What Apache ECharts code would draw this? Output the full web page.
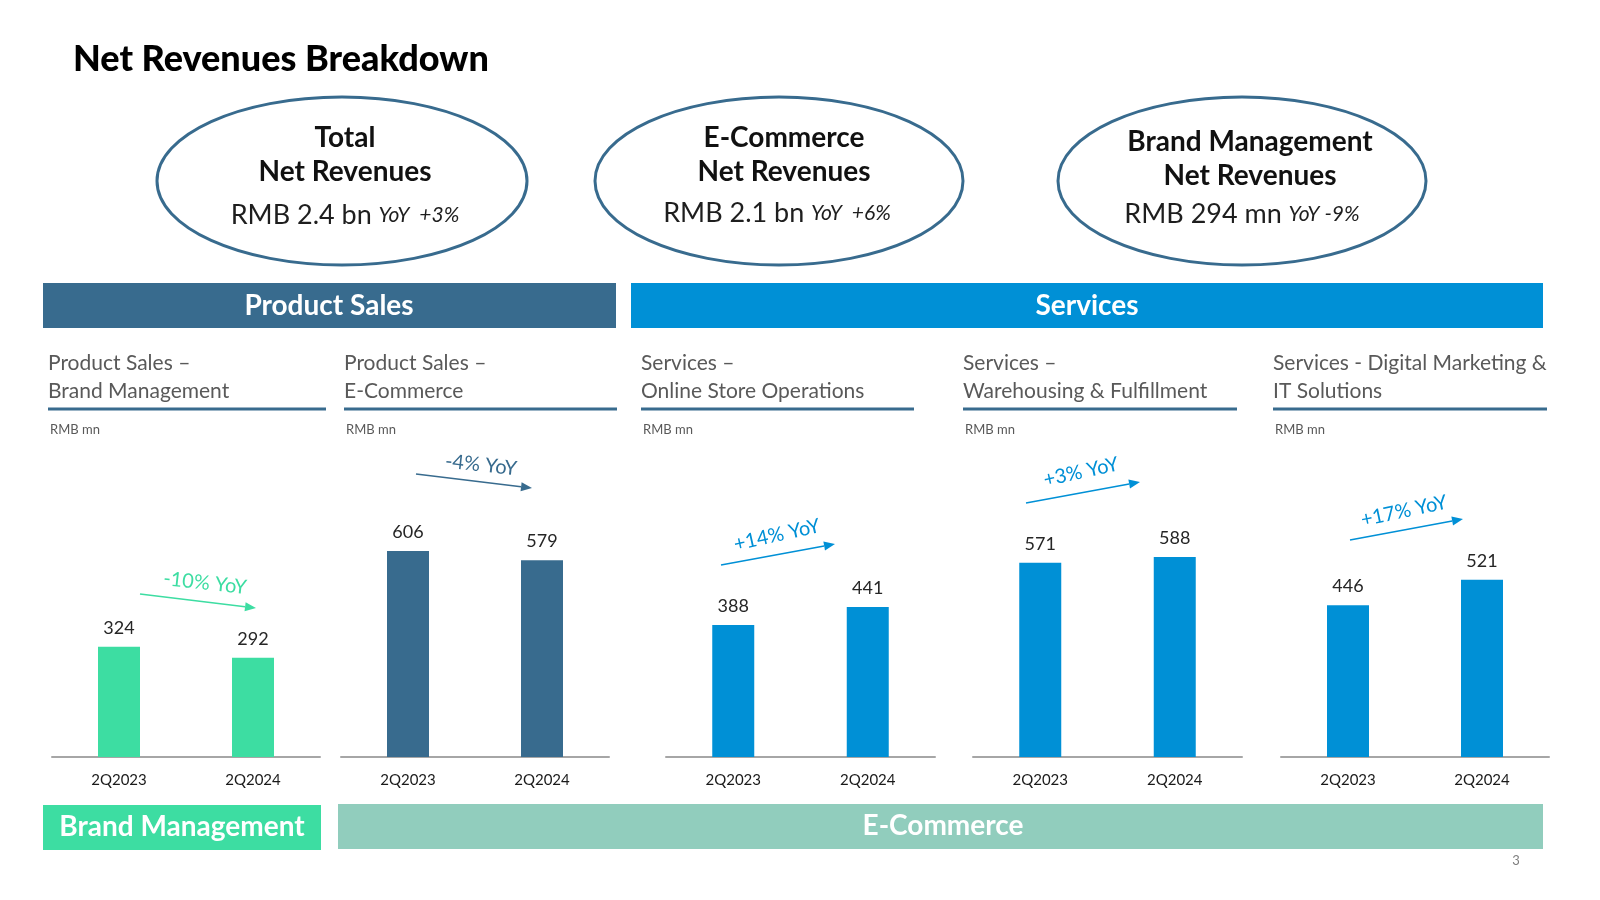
<!DOCTYPE html>
<html>
<head>
<meta charset="utf-8">
<script src="https://cdn.jsdelivr.net/npm/echarts@6/dist/echarts.min.js"></script>
<style>
html,body{margin:0;padding:0;background:#fff;}
#c{width:1600px;height:900px;}
</style>
</head>
<body>
<div id="c"></div>
<script>
// ---- data ----
const categories = ['2Q2023', '2Q2024'];
const psBrandMgmt = [324, 292];
const psECommerce = [606, 579];
const svcOnlineStore = [388, 441];
const svcWarehousing = [571, 588];
const svcDigitalIT = [446, 521];
const yoyLabels = ['-10% YoY', '-4% YoY', '+14% YoY', '+3% YoY', '+17% YoY'];
const panelTitles = [
  'Product Sales –\nBrand Management',
  'Product Sales –\nE-Commerce',
  'Services –\nOnline Store Operations',
  'Services –\nWarehousing & Fulfillment',
  'Services - Digital Marketing &\nIT Solutions'
];
const unitLabel = 'RMB mn';
const summaryTitles = ['Total\nNet Revenues', 'E-Commerce\nNet Revenues', 'Brand Management\nNet Revenues'];
const summaryValues = ['RMB 2.4 bn', 'RMB 2.1 bn', 'RMB 294 mn'];
const summaryYoY = ['YoY  +3%', 'YoY  +6%', 'YoY -9%'];

// ---- styling / layout ----
const F = 'Lato, "Open Sans", sans-serif';
const GREEN = '#3ddda2', DARK = '#386b8e', BLUE = '#0090d6', TEAL = '#91cdbd';
const panelData = [psBrandMgmt, psECommerce, svcOnlineStore, svcWarehousing, svcDigitalIT];
const panelColors = [GREEN, DARK, BLUE, BLUE, BLUE];
const gridLefts = [52, 341, 666, 973, 1281];
const gridWidths = [268, 268, 269, 269, 268];
const subX = [48, 344, 641, 963, 1273];
const subW = [278, 273, 273, 274, 274];

const chart = echarts.init(document.getElementById('c'), null, {renderer: 'canvas'});

const grids = [], xAxes = [], yAxes = [], series = [];
for (let i = 0; i < 5; i++) {
  grids.push({left: gridLefts[i], width: gridWidths[i], top: 451, height: 306, containLabel: false});
  xAxes.push({
    gridIndex: i, type: 'category', data: categories,
    axisLine: {lineStyle: {color: '#a6a6a6', width: 2}},
    axisTick: {show: false},
    axisLabel: {color: '#1a1a1a', fontSize: 15, margin: 16, fontFamily: F}
  });
  yAxes.push({gridIndex: i, type: 'value', min: 0, max: 900, show: false, splitLine: {show: false}});
  series.push({
    type: 'bar', xAxisIndex: i, yAxisIndex: i, data: panelData[i], barWidth: 42,
    itemStyle: {color: panelColors[i]},
    label: {show: true, position: 'top', distance: 10, fontSize: 18, color: '#262626', fontFamily: F},
    silent: true
  });
}

function arrow(x1, y1, x2, y2, color) {
  const a = Math.atan2(y2 - y1, x2 - x1), L = 11, Wd = 4.5;
  const c = Math.cos(a), s = Math.sin(a);
  const bx = x2 - L * c, by = y2 - L * s;
  return [
    {type: 'line', shape: {x1: x1, y1: y1, x2: bx, y2: by}, style: {stroke: color, lineWidth: 1.6}},
    {type: 'polygon', shape: {points: [[x2, y2], [bx - s * Wd, by + c * Wd], [bx + s * Wd, by - c * Wd]]}, style: {fill: color}}
  ];
}

const g = [];
// title
g.push({type: 'text', x: 73, y: 59, style: {text: 'Net Revenues Breakdown', fontFamily: F, fontWeight: 900, fontSize: 36, fill: '#000', verticalAlign: 'middle', align: 'left'}});

// ellipses
const ell = [[342, 181, 185, 84], [779, 181, 184, 84], [1242, 181, 184, 84]];
const ellTitleX = [345, 784, 1250];
const ellValX = [345, 777, 1242];
const ellTitleY = [155, 155, 159];
const ellValY = [215, 213, 214];
ell.forEach((e, i) => {
  g.push({type: 'ellipse', shape: {cx: e[0], cy: e[1], rx: e[2], ry: e[3]}, style: {fill: '#fff', stroke: DARK, lineWidth: 3}});
  g.push({type: 'text', x: ellTitleX[i], y: ellTitleY[i], style: {text: summaryTitles[i], fontFamily: F, fontWeight: 'bold', fontSize: 28, lineHeight: 34, fill: '#111', align: 'center', verticalAlign: 'middle'}});
  g.push({type: 'text', x: ellValX[i], y: ellValY[i], style: {
    text: '{v|' + summaryValues[i] + '}  {y|' + summaryYoY[i] + '}',
    align: 'center', verticalAlign: 'middle',
    rich: {
      v: {fontFamily: F, fontSize: 27, fontWeight: 'normal', fill: '#1e1e1e', color: '#1e1e1e'},
      y: {fontFamily: F, fontSize: 21, fontStyle: 'italic', fontWeight: 'normal', fill: '#1e1e1e', color: '#1e1e1e'}
    }
  }});
});

// header bars
g.push({type: 'rect', shape: {x: 43, y: 283, width: 573, height: 45}, style: {fill: DARK}});
g.push({type: 'text', x: 329, y: 306, style: {text: 'Product Sales', fontFamily: F, fontWeight: 'bold', fontSize: 28, fill: '#fff', align: 'center', verticalAlign: 'middle'}});
g.push({type: 'rect', shape: {x: 631, y: 283, width: 912, height: 45}, style: {fill: BLUE}});
g.push({type: 'text', x: 1087, y: 306, style: {text: 'Services', fontFamily: F, fontWeight: 'bold', fontSize: 28, fill: '#fff', align: 'center', verticalAlign: 'middle'}});

// panel subtitles
for (let i = 0; i < 5; i++) {
  g.push({type: 'text', x: subX[i], y: 377, style: {text: panelTitles[i], fontFamily: F, fontSize: 21, lineHeight: 28, fill: '#595959', align: 'left', verticalAlign: 'middle'}});
  g.push({type: 'rect', shape: {x: subX[i], y: 407.5, width: subW[i], height: 3}, style: {fill: DARK}});
  g.push({type: 'text', x: subX[i] + 2, y: 430, style: {text: unitLabel, fontFamily: F, fontSize: 13, fill: '#595959', align: 'left', verticalAlign: 'middle'}});
}

// YoY arrows and texts
const arrows = [[140, 594, 256, 608], [416, 474, 532, 488], [721, 565, 835, 544], [1026, 503, 1140, 482], [1350, 540, 1463, 519]];
const yoyPos = [[205, 583, -0.11], [481, 465, -0.11], [777, 535, 0.22], [1081, 472, 0.22], [1404, 511, 0.21]];
for (let i = 0; i < 5; i++) {
  const a = arrows[i];
  arrow(a[0], a[1], a[2], a[3], panelColors[i]).forEach(el => g.push(el));
  g.push({type: 'text', x: yoyPos[i][0], y: yoyPos[i][1], rotation: yoyPos[i][2], style: {text: yoyLabels[i], fontFamily: F, fontSize: 20, fill: panelColors[i], align: 'center', verticalAlign: 'middle'}});
}

// bottom bars
g.push({type: 'rect', shape: {x: 43, y: 805, width: 278, height: 45}, style: {fill: GREEN}});
g.push({type: 'text', x: 182, y: 827, style: {text: 'Brand Management', fontFamily: F, fontWeight: 'bold', fontSize: 28, fill: '#fff', align: 'center', verticalAlign: 'middle'}});
g.push({type: 'rect', shape: {x: 338, y: 804, width: 1205, height: 45}, style: {fill: TEAL}});
g.push({type: 'text', x: 943, y: 826, style: {text: 'E-Commerce', fontFamily: F, fontWeight: 'bold', fontSize: 28, fill: '#fff', align: 'center', verticalAlign: 'middle'}});

// page number
g.push({type: 'text', x: 1516, y: 861, style: {text: '3', fontFamily: F, fontSize: 13, fill: '#7f7f7f', align: 'center', verticalAlign: 'middle'}});

chart.setOption({
  animation: false,
  backgroundColor: '#fff',
  grid: grids,
  xAxis: xAxes,
  yAxis: yAxes,
  series: series,
  graphic: {elements: g}
});
</script>
</body>
</html>
